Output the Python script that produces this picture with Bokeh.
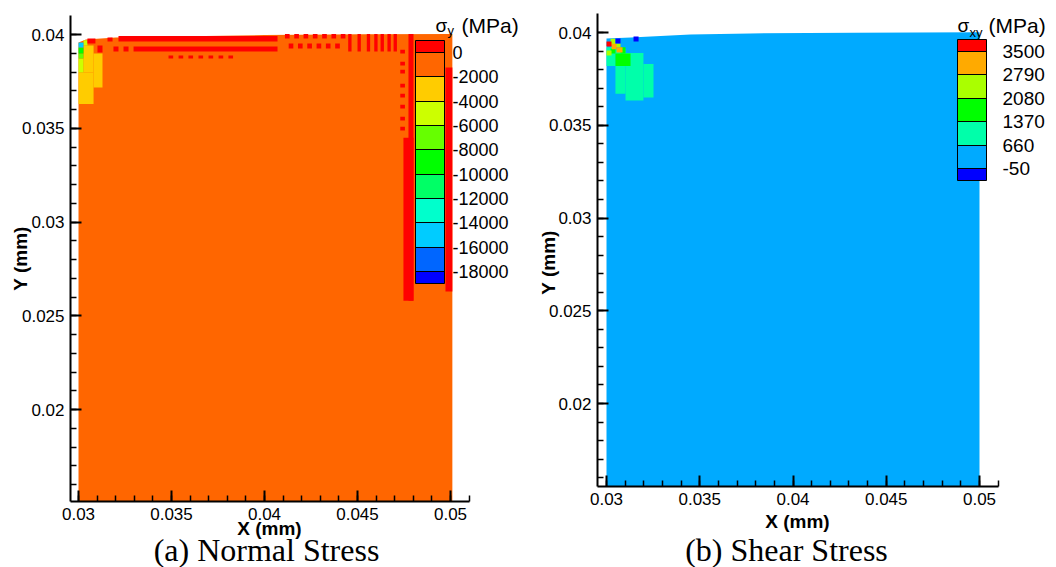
import math
from bokeh.plotting import figure
from bokeh.models import (ColumnDataSource, LinearColorMapper, ColorBar,
                          FixedTicker, Range1d, Label, LinearAxis, AllLabels)
from bokeh.embed import file_html
from bokeh.resources import INLINE

SANS = "Liberation Sans"
SERIF = "Liberation Serif"
CW, CH = 1056, 567

# ---------------- shared axis data ----------------
x_ticks = [0.03, 0.035, 0.04, 0.045, 0.05]
x_tick_labels = ["0.03", "0.035", "0.04", "0.045", "0.05"]
y_ticks = [0.02, 0.025, 0.03, 0.035, 0.04]
y_tick_labels = ["0.02", "0.025", "0.03", "0.035", "0.04"]
x_minor = [round(0.030 + 0.001 * i, 3) for i in range(22)]
y_minor = [round(0.016 + 0.001 * i, 3) for i in range(25)]

# ---------------- (a) normal stress sigma_y ----------------
sy_levels = [0, -2000, -4000, -6000, -8000, -10000, -12000, -14000, -16000, -18000]
sy_level_labels = ["0", "-2000", "-4000", "-6000", "-8000", "-10000",
                   "-12000", "-14000", "-16000", "-18000"]
sy_colors = ["#0000FF", "#0066FF", "#00CCFF", "#00FFCC", "#00FF66", "#00FF00",
             "#66FF00", "#CCFF00", "#FFCC00", "#FF6600", "#FF0000"]  # low -> high
sy_low, sy_high, sy_step = -19000, 1000, 100

sy_dom_x = [0.0300, 0.0501, 0.0501, 0.0450, 0.0400, 0.0350, 0.0320, 0.0304, 0.0300]
sy_dom_y = [0.01509, 0.01509, 0.04003, 0.04002, 0.03997, 0.0399, 0.03984, 0.03973, 0.03958]
sy_dom_val = -1000

# cells: (x0, x1, y0, y1) in mm
sy_yellow = [(0.0300, 0.03081, 0.0363, 0.03797),
             (0.03027, 0.03081, 0.03797, 0.03941),
             (0.03081, 0.03129, 0.03717, 0.03899)]
sy_yellow_val = -3000
sy_ygreen = [(0.0300, 0.03027, 0.03797, 0.03872),
             (0.03027, 0.03048, 0.03941, 0.0397)]
sy_ygreen_val = -5000
sy_green1 = [(0.0300, 0.03027, 0.03872, 0.03899)]
sy_green1_val = -7000
sy_green2 = [(0.0300, 0.03027, 0.03899, 0.03931)]
sy_green2_val = -9000
sy_cyan = [(0.0300, 0.03027, 0.03931, 0.03958)]
sy_cyan_val = -15000
sy_red = [(0.03048, 0.03091, 0.03952, 0.03979),
          (0.03102, 0.03129, 0.03904, 0.03941),
          (0.03156, 0.03183, 0.03963, 0.03984),
          (0.03188, 0.03215, 0.03909, 0.03936),
          (0.03242, 0.03269, 0.03909, 0.03936),
          (0.03215, 0.0407, 0.03963, 0.03992),
          (0.03296, 0.0407, 0.03909, 0.03936),
          (0.03484, 0.03509, 0.03872, 0.03888),
          (0.03538, 0.03563, 0.03872, 0.03888),
          (0.03591, 0.03616, 0.03872, 0.03888),
          (0.03645, 0.0367, 0.03872, 0.03888),
          (0.03699, 0.03724, 0.03872, 0.03888),
          (0.03753, 0.03778, 0.03872, 0.03888),
          (0.03806, 0.03831, 0.03872, 0.03888),
          (0.0411, 0.04135, 0.03979, 0.04003),
          (0.0416, 0.04185, 0.03979, 0.04003),
          (0.0421, 0.04235, 0.03979, 0.04003),
          (0.0426, 0.04285, 0.03979, 0.04003),
          (0.0431, 0.04335, 0.03979, 0.04003),
          (0.0436, 0.04385, 0.03979, 0.04003),
          (0.0441, 0.04435, 0.03979, 0.04003),
          (0.0413, 0.04155, 0.03925, 0.03952),
          (0.0418, 0.04205, 0.03925, 0.03952),
          (0.0423, 0.04255, 0.03925, 0.03952),
          (0.0428, 0.04305, 0.03925, 0.03952),
          (0.0433, 0.04355, 0.03925, 0.03952),
          (0.0438, 0.04405, 0.03925, 0.03952),
          (0.0445, 0.04468, 0.0391, 0.04003),
          (0.0450, 0.04518, 0.0391, 0.04003),
          (0.0455, 0.04568, 0.0391, 0.04003),
          (0.0459, 0.04608, 0.0391, 0.04003),
          (0.04624, 0.04642, 0.0391, 0.04003),
          (0.04661, 0.04679, 0.0391, 0.04003),
          (0.04694, 0.04712, 0.0391, 0.04003),
          (0.0473, 0.04755, 0.03899, 0.03919),
          (0.0473, 0.04755, 0.03835, 0.03855),
          (0.0473, 0.04755, 0.03792, 0.03812),
          (0.0473, 0.04755, 0.03717, 0.03737),
          (0.0473, 0.04755, 0.03664, 0.03684),
          (0.0473, 0.04755, 0.03605, 0.03625),
          (0.0473, 0.04755, 0.03541, 0.03561),
          (0.0473, 0.04755, 0.03488, 0.03508),
          (0.04774, 0.04801, 0.0258, 0.04003),
          (0.04747, 0.04801, 0.0258, 0.0345),
          (0.04973, 0.0501, 0.0263, 0.03824)]
sy_red_val = 500

# ---------------- (b) shear stress sigma_xy ----------------
sxy_levels = [3500, 2790, 2080, 1370, 660, -50]
sxy_level_labels = ["3500", "2790", "2080", "1370", "660", "-50"]
sxy_colors = ["#0000FF", "#00AAFF", "#00FFAA", "#00FF00", "#AAFF00", "#FFAA00", "#FF0000"]
sxy_low, sxy_high, sxy_step = -405, 3855, 71

sxy_dom_x = [0.0300, 0.0500, 0.0500, 0.0433, 0.0377, 0.0345, 0.0313, 0.0300]
sxy_dom_y = [0.01553, 0.01553, 0.04002, 0.03998, 0.03995, 0.03989, 0.03973, 0.03968]
sxy_dom_val = 300

sxy_teal = [(0.0300, 0.03048, 0.0382, 0.0392),
            (0.03048, 0.03102, 0.0367, 0.0391),
            (0.03102, 0.03198, 0.03633, 0.0389),
            (0.03198, 0.03252, 0.0365, 0.0383)]
sxy_teal_val = 1000
sxy_green = [(0.03048, 0.03129, 0.0382, 0.03887),
             (0.03075, 0.03102, 0.03887, 0.0392),
             (0.03022, 0.03048, 0.03887, 0.03914)]
sxy_green_val = 1700
sxy_ygreen = [(0.03022, 0.03048, 0.0393, 0.03966),
              (0.03048, 0.03075, 0.0392, 0.03941),
              (0.0300, 0.03027, 0.03876, 0.03903)]
sxy_ygreen_val = 2400
sxy_orange = [(0.03027, 0.03054, 0.0391, 0.0394),
              (0.03054, 0.03086, 0.03892, 0.0392)]
sxy_orange_val = 3100
sxy_red = [(0.0300, 0.03027, 0.03925, 0.03951)]
sxy_red_val = 3700
sxy_blue = [(0.03048, 0.03075, 0.03941, 0.03968),
            (0.03145, 0.03172, 0.03951, 0.03978)]
sxy_blue_val = -200


def build_palette(levels, colors, low, high, step):
    bounds = [low] + sorted(levels) + [high]
    pal = []
    for i, c in enumerate(colors):
        n = int(round((bounds[i + 1] - bounds[i]) / step))
        pal += [c] * n
    return pal


p = figure(width=CW, height=CH, x_range=Range1d(0, CW), y_range=Range1d(0, CH),
           x_axis_type=None, y_axis_type=None, output_backend="svg",
           toolbar_location=None, title=None, min_border=0,
           min_border_left=0, min_border_right=0, min_border_top=0, min_border_bottom=0)
p.grid.visible = False
p.outline_line_color = None
p.background_fill_color = "white"
p.border_fill_color = "white"


def add_panel(name, x_px, y_py, ax_px, ay_py):
    (xa, pa), (xb, pb) = x_px
    kx = (pb - pa) / (xb - xa)
    x0 = xa - pa / kx
    (ya, qa), (yb, qb) = y_py
    ky = (qb - qa) / (ya - yb)
    ytop = ya + qa / ky
    p.extra_x_ranges[name] = Range1d(x0, x0 + CW / kx)
    p.extra_y_ranges[name] = Range1d(ytop - CH / ky, ytop)
    xl = x0 + ax_px[0] / kx
    xr = x0 + ax_px[1] / kx
    yb_ = ytop - ay_py[1] / ky
    yt_ = ytop - ay_py[0] / ky
    xaxis = LinearAxis(x_range_name=name, y_range_name=name, fixed_location=yb_,
                       bounds=(xl, xr), ticker=FixedTicker(ticks=x_ticks, minor_ticks=x_minor),
                       major_label_overrides=dict(zip(x_ticks, x_tick_labels)))
    yaxis = LinearAxis(x_range_name=name, y_range_name=name, fixed_location=xl,
                       bounds=(yb_, yt_), ticker=FixedTicker(ticks=y_ticks, minor_ticks=y_minor),
                       major_label_overrides=dict(zip(y_ticks, y_tick_labels)))
    for ax in (xaxis, yaxis):
        ax.axis_line_width = 2
        ax.axis_line_color = "black"
        ax.major_tick_in = 11
        ax.major_tick_out = 0
        ax.major_tick_line_width = 2
        ax.minor_tick_in = 6
        ax.minor_tick_out = 0
        ax.minor_tick_line_width = 1.5
        ax.major_label_text_font = SANS
        ax.major_label_text_font_size = "17px"
        ax.major_label_text_color = "black"
        ax.major_label_standoff = 6
    return xaxis, yaxis


def draw_field(name, mapper, dom_x, dom_y, dom_val, groups):
    p.patches(xs="xs", ys="ys", x_range_name=name, y_range_name=name,
              source=ColumnDataSource(dict(xs=[dom_x], ys=[dom_y], v=[dom_val])),
              fill_color={"field": "v", "transform": mapper}, line_color=None)
    for cells, val in groups:
        src = ColumnDataSource(dict(
            l=[c[0] for c in cells], r=[c[1] for c in cells],
            b=[c[2] for c in cells], t=[c[3] for c in cells],
            v=[val] * len(cells)))
        p.quad(left="l", right="r", bottom="b", top="t", source=src,
               x_range_name=name, y_range_name=name,
               fill_color={"field": "v", "transform": mapper}, line_color=None)


def add_text(px, py, text, size, font=SANS, style="normal",
             align="center", baseline="middle", angle=0.0):
    p.add_layout(Label(x=px, y=CH - py, text=text, text_font=font, text_font_size=size,
                       text_font_style=style, text_align=align,
                       text_baseline=baseline, angle=angle, text_color="black"))


def add_colorbar(mapper, levels, labels, left, top, w, h, standoff, size):
    cb = ColorBar(color_mapper=mapper, ticker=FixedTicker(ticks=levels),
                  major_label_overrides=dict(zip(levels, labels)),
                  major_label_policy=AllLabels(),
                  location=(left, CH - top - h), width=w, height=h, padding=0,
                  orientation="vertical", bar_line_color="black", bar_line_width=1,
                  major_tick_line_color="black", major_tick_in=w, major_tick_out=0,
                  minor_tick_line_color=None, label_standoff=standoff,
                  major_label_text_font=SANS, major_label_text_font_size=size,
                  major_label_text_color="black",
                  background_fill_alpha=0, border_line_color=None)
    p.add_layout(cb)


# ---------- panel (a) ----------
m1 = LinearColorMapper(palette=build_palette(sy_levels, sy_colors, sy_low, sy_high, sy_step),
                       low=sy_low, high=sy_high)
ax1, ay1 = add_panel("a", ((0.03, 78), (0.05, 450)), ((0.04, 34), (0.02, 409)),
                     (70, 469), (15, 501))
draw_field("a", m1, sy_dom_x, sy_dom_y, sy_dom_val,
           [(sy_yellow, sy_yellow_val), (sy_ygreen, sy_ygreen_val),
            (sy_green1, sy_green1_val), (sy_green2, sy_green2_val),
            (sy_cyan, sy_cyan_val), (sy_red, sy_red_val)])
p.add_layout(ax1, "below")
p.add_layout(ay1, "left")
add_colorbar(m1, sy_levels, sy_level_labels, 415, 40, 29, 243, 8, "18px")
add_text(20, 258, "Y (mm)", "19px", style="bold", angle=math.pi / 2)
add_text(269, 528, "X (mm)", "19px", style="bold")
add_text(266, 549, "(a) Normal Stress", "32px", font=SERIF)
add_text(435, 25, "σ", "19px", align="left", baseline="alphabetic")
add_text(447, 30, "y", "13px", align="left", baseline="alphabetic")
add_text(461, 25, "(MPa)", "21px", align="left", baseline="alphabetic")

# ---------- panel (b) ----------
m2 = LinearColorMapper(palette=build_palette(sxy_levels, sxy_colors, sxy_low, sxy_high, sxy_step),
                       low=sxy_low, high=sxy_high)
ax2, ay2 = add_panel("b", ((0.03, 606), (0.05, 979)), ((0.04, 32), (0.02, 403)),
                     (597, 998), (13, 486))
draw_field("b", m2, sxy_dom_x, sxy_dom_y, sxy_dom_val,
           [(sxy_teal, sxy_teal_val), (sxy_green, sxy_green_val),
            (sxy_ygreen, sxy_ygreen_val), (sxy_orange, sxy_orange_val),
            (sxy_red, sxy_red_val), (sxy_blue, sxy_blue_val)])
p.add_layout(ax2, "below")
p.add_layout(ay2, "left")
add_colorbar(m2, sxy_levels, sxy_level_labels, 957, 39, 29, 141, 16, "19px")
add_text(548, 262, "Y (mm)", "19px", style="bold", angle=math.pi / 2)
add_text(797, 521, "X (mm)", "19px", style="bold")
add_text(786, 549, "(b) Shear Stress", "32px", font=SERIF)
add_text(957, 25, "σ", "19px", align="left", baseline="alphabetic")
add_text(969, 32, "xy", "13px", align="left", baseline="alphabetic")
add_text(988, 25, "(MPa)", "21px", align="left", baseline="alphabetic")

open("out.html", "w").write(file_html(p, INLINE))
